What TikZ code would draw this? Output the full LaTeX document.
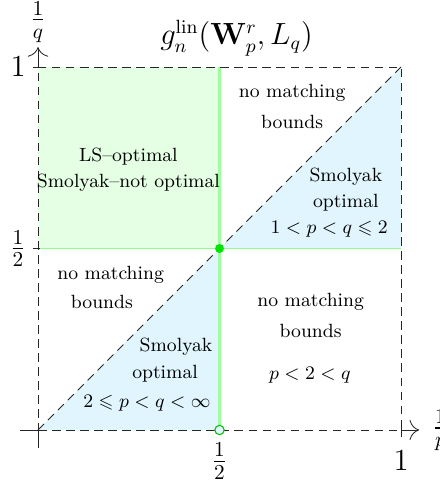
\documentclass[tikz,border=0pt]{standalone}
\usepackage{amsmath,amssymb}
\usepackage{tikz}
\usetikzlibrary{arrows.meta,positioning}
\tikzset{
  region/.style={
    font=\small,
    inner sep=1pt
  },
  ticklabel/.style={
    font=\Large,
    inner sep=1pt
  },
  greenline/.style={draw=green!45, line width=0.7pt},
  boundary/.style={dash pattern=on 4pt off 2.6pt, line width=0.4pt, draw=black!85},
  axis/.style={line width=0.4pt, draw=black!85}
}

\begin{document}
\begin{tikzpicture}[x=60mm,y=60mm]
  \useasboundingbox (-0.1047,-0.1377) rectangle (1.1047,1.1846);

  % corners of the square
  \coordinate (o) at (0,0);
  \coordinate (px) at (1,0);
  \coordinate (py) at (0,1);
  \coordinate (pp) at (1,1);
  \coordinate (mid) at (0.5,0.5);
  \coordinate (hx) at (0.5,0);
  \coordinate (hy) at (0,0.5);
  \coordinate (hr) at (1,0.5);
  \coordinate (ht) at (0.5,1);

  % shaded regions
  \fill[green!10] (hy) rectangle (ht);
  \fill[cyan!12] (o) -- (hx) -- (mid) -- cycle;
  \fill[cyan!12] (mid) -- (hr) -- (pp) -- cycle;

  % green separators
  \draw[greenline, draw=green!38, line width=1pt] (hx) -- (ht);
  \draw[greenline] (hy) -- (hr);

  % dashed square and diagonal
  \draw[boundary] (o) -- (px) -- (pp) -- (py) -- cycle;
  \draw[boundary] (o) -- (pp);

  % axes
  \draw[axis] (-0.05,0) -- (o) -- (0,-0.05);
  \draw[axis, -{To[length=1.6mm]}] (px) -- (1.05,0);
  \draw[axis, -{To[length=1.6mm]}] (py) -- (0,1.055);
  \draw[axis] (1,-0.02) -- (1,0.02);
  \draw[axis] (-0.015,1) -- (py);
  \draw[axis] (-0.015,0.5) -- (0.005,0.5);

  % points
  \node[circle, fill=green!90!black, inner sep=0pt, minimum size=4.2pt] (dot) at (mid) {};
  \node[circle, draw=green!75!black, fill=cyan!12, line width=0.5pt, inner sep=0pt, minimum size=4.4pt] (odot) at (hx) {};

  % axis labels
  \node[ticklabel] (lone) at (-0.055,1) {$1$};
  \node[ticklabel] (lhalf) at (-0.055,0.5) {$\frac{1}{2}$};
  \node[ticklabel] (bhalf) at (0.5,-0.086) {$\frac{1}{2}$};
  \node[ticklabel] (bone) at (1,-0.085) {$1$};
  \node[ticklabel] (qlab) at (0,1.124) {$\frac{1}{q}$};
  \node[ticklabel, anchor=west] (plab) at (1.08,0) {$\frac{1}{p}$};
  \node[font=\fontsize{13.4pt}{16pt}\selectfont] (title) at (0.547,1.08) {$g_n^{\mathrm{lin}}(\mathbf{W}^r_p, L_q)$};

  % region texts
  \node[region] (tr1) at (0.70,0.928) {no matching};
  \node[region] (tr2) at (0.70,0.848) {bounds};
  \node[region] (ls1) at (0.249,0.752) {LS--optimal};
  \node[region] (ls2) at (0.249,0.680) {Smolyak--not optimal};
  \node[region] (su1) at (0.848,0.697) {Smolyak};
  \node[region] (su2) at (0.848,0.625) {optimal};
  \node[region] (su3) at (0.802,0.553) {$1<p<q\leqslant 2$};
  \node[region] (bl1) at (0.20,0.427) {no matching};
  \node[region] (bl2) at (0.176,0.353) {bounds};
  \node[region] (br1) at (0.751,0.353) {no matching};
  \node[region] (br2) at (0.751,0.273) {bounds};
  \node[region] (br3) at (0.749,0.152) {$p<2<q$};
  \node[region] (sl1) at (0.380,0.229) {Smolyak};
  \node[region] (sl2) at (0.350,0.154) {optimal};
  \node[region] (sl3) at (0.300,0.074) {$2\leqslant p<q<\infty$};
\end{tikzpicture}
\end{document}
